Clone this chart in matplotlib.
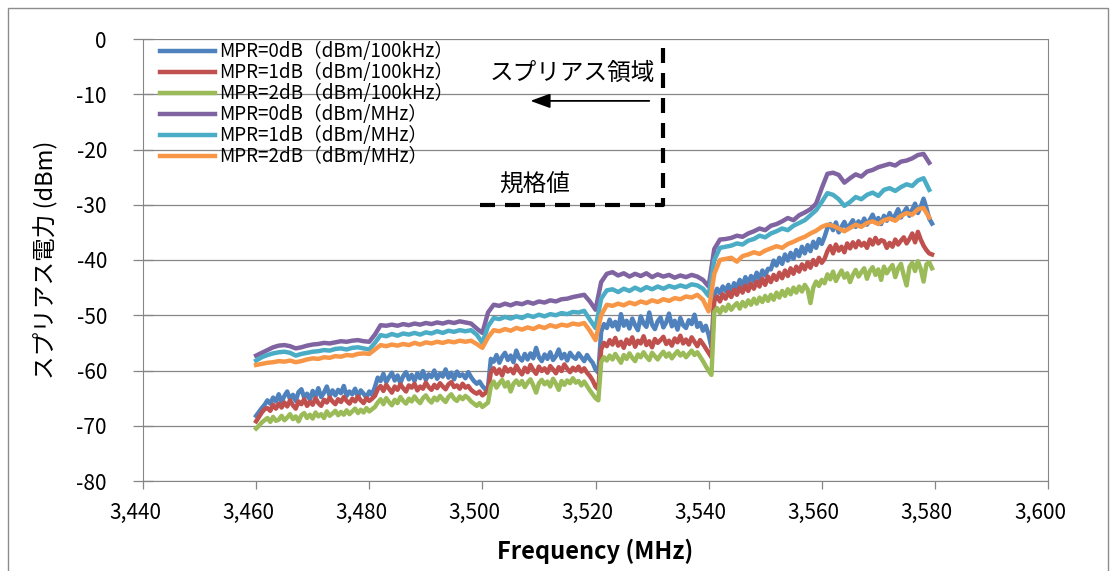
import numpy as np
import matplotlib
matplotlib.use("Agg")
import matplotlib.pyplot as plt
import matplotlib.transforms as mtransforms
from matplotlib.ticker import StrMethodFormatter
from matplotlib.patches import Rectangle

plt.rcParams['font.family'] = ['Noto Sans CJK JP', 'DejaVu Sans']
plt.rcParams['axes.unicode_minus'] = False

# ---- data ----
# 100 kHz series: 0.5 MHz spacing, one list per 20 MHz block, block start freq below
seg_start_100k = [3460.0, 3481.5, 3501.5, 3521.0, 3541.0, 3561.0]

mpr0_100k = [
    [-68.2, -67.5, -66.8, -66.2, -65.4, -66.0, -64.9, -65.6, -64.3, -65.7,
     -64.6, -63.8, -65.2, -64.4, -65.5, -63.9, -63.4, -64.9, -64.2, -65.3,
     -63.7, -64.7, -63.2, -64.8, -64.0, -62.9, -64.6, -63.6, -64.5, -63.5,
     -64.1, -62.8, -64.6, -63.8, -64.3, -63.3, -64.7, -63.6, -64.2, -64.9,
     -63.8, -64.4, -63.0],
    [-61.3, -61.9, -60.6, -62.1, -61.2, -60.4, -61.8, -60.9, -62.3, -61.0,
     -60.3, -61.6, -60.8, -61.9, -60.5, -61.4, -60.1, -61.7, -60.7, -61.2,
     -60.0, -61.5, -60.6, -61.1, -59.8, -61.3, -60.4, -61.6, -60.2, -61.0,
     -60.7, -61.4, -60.3, -61.2, -61.9, -62.4, -62.0, -62.8, -63.4, -63.0],
    [-57.9, -58.4, -57.2, -58.6, -57.5, -56.8, -58.1, -57.3, -58.5, -56.4,
     -57.7, -58.2, -57.0, -58.0, -56.9, -57.8, -55.9, -57.6, -58.3, -57.1,
     -57.9, -56.7, -58.1, -57.4, -56.2, -57.8, -57.0, -58.2, -56.8, -57.5,
     -57.9, -56.9, -57.6, -58.3, -57.2, -58.0, -58.6, -59.8, -60.4],
    [-53.0, -51.6, -52.3, -50.8, -52.0, -51.2, -52.6, -49.8, -51.9, -51.0,
     -52.4, -50.6, -51.8, -52.7, -50.2, -51.5, -52.1, -49.5, -51.7, -52.5,
     -51.1, -50.4, -52.2, -51.3, -49.7, -52.0, -51.0, -52.6, -50.5, -51.8,
     -52.3, -50.9, -51.6, -49.9, -52.1, -51.4, -52.8, -51.9, -53.5, -55.8],
    [-46.3, -45.2, -46.0, -44.8, -45.6, -44.5, -45.9, -44.2, -45.0, -43.6,
     -44.6, -43.1, -44.2, -42.9, -43.8, -42.3, -43.5, -41.9, -42.8, -41.6,
     -41.7, -40.1, -41.0, -39.6, -40.7, -39.0, -40.1, -38.7, -39.8, -38.2,
     -39.3, -37.6, -38.8, -37.3, -38.4, -36.7, -37.8, -36.2, -37.1, -35.8],
    [-34.2, -33.5, -34.6, -33.2, -35.0, -34.0, -33.1, -34.4, -33.6, -32.8,
     -34.0, -33.0, -33.8, -32.5, -33.6, -32.7, -31.8, -33.2, -32.4, -33.5,
     -32.0, -32.9, -31.5, -32.6, -31.9, -30.8, -32.3, -31.4, -30.6, -32.0,
     -30.9, -29.8, -31.5, -30.4, -28.9, -30.6, -32.5, -33.4],
]

mpr1_100k = [
    [-69.2, -68.4, -67.6, -67.0, -66.8, -67.3, -66.2, -66.9, -66.0, -66.7,
     -65.8, -66.5, -65.4, -66.3, -66.9, -65.6, -66.1, -65.2, -66.4, -65.7,
     -66.2, -65.0, -65.9, -66.4, -65.3, -65.8, -64.9, -65.6, -66.1, -65.2,
     -65.7, -64.8, -65.5, -66.0, -65.1, -65.6, -64.7, -65.4, -65.9, -65.0,
     -65.5, -65.1, -64.6],
    [-63.4, -62.8, -63.7, -62.6, -63.3, -64.0, -62.9, -63.5, -62.5, -63.2,
     -63.8, -62.7, -63.1, -62.4, -63.6, -62.9, -63.3, -62.2, -63.0, -63.5,
     -62.6, -63.2, -62.3, -62.9, -63.4, -62.5, -62.1, -63.0, -62.7, -63.3,
     -62.4, -63.1, -62.8, -63.5, -63.9, -64.2, -63.8, -64.5, -64.1, -63.6],
    [-60.3, -59.6, -60.6, -59.8, -60.9, -59.4, -60.2, -59.7, -60.5, -59.1,
     -60.0, -60.7, -59.5, -60.3, -59.0, -59.9, -60.6, -59.3, -60.1, -59.6,
     -60.4, -59.2, -59.8, -60.5, -59.4, -60.1, -58.9, -59.7, -60.3, -59.5,
     -60.0, -59.3, -60.2, -59.6, -60.4, -61.0, -61.8, -62.9, -63.4],
    [-56.2, -55.0, -55.6, -54.5, -55.3, -54.1, -55.5, -54.8, -55.9, -54.4,
     -55.2, -54.0, -55.7, -54.6, -55.1, -53.8, -55.4, -54.7, -55.8, -54.3,
     -55.0, -54.5, -53.9, -55.2, -54.6, -55.5, -54.2, -54.9, -53.7, -55.1,
     -54.4, -55.3, -54.0, -54.8, -55.6, -54.5, -55.2, -56.0, -56.8, -57.6],
    [-47.4, -46.6, -47.5, -46.2, -47.0, -45.8, -46.7, -45.4, -46.3, -45.0,
     -45.9, -44.6, -45.6, -44.3, -45.2, -43.9, -44.8, -43.4, -44.5, -43.0,
     -44.0, -42.7, -43.6, -42.3, -43.3, -41.9, -42.9, -41.5, -42.5, -41.2,
     -42.1, -40.8, -41.7, -40.4, -41.4, -40.0, -40.9, -39.6, -40.5, -39.8],
    [-38.4, -37.5, -38.8, -37.2, -38.3, -37.6, -38.6, -37.0, -37.9, -36.8,
     -37.7, -36.6, -37.4, -36.9, -37.8, -36.3, -37.2, -36.0, -37.0, -36.4,
     -36.6, -37.8, -36.9, -37.6, -36.3, -37.2, -36.5, -35.9, -37.0, -36.2,
     -35.2, -36.8, -34.9, -36.3, -37.4, -38.2, -38.8, -39.0],
]

mpr2_100k = [
    [-70.5, -70.0, -69.4, -69.0, -68.6, -69.3, -68.4, -69.1, -68.9, -68.2,
     -69.0, -68.5, -67.9, -68.8, -68.3, -69.2, -68.1, -67.7, -68.6, -68.0,
     -68.7, -67.6, -68.3, -67.9, -68.6, -67.4, -68.2, -67.8, -67.3, -68.1,
     -67.5, -68.0, -67.2, -67.9, -67.4, -66.9, -67.7, -67.1, -67.6, -66.8,
     -67.4, -67.0, -66.6],
    [-65.8, -65.2, -66.1, -65.0, -65.7, -66.3, -65.3, -65.9, -64.8, -65.5,
     -66.0, -65.1, -65.6, -64.7, -65.4, -65.9, -65.0, -64.5, -65.3, -65.8,
     -64.9, -65.4, -64.6, -65.2, -65.7, -64.8, -64.3, -65.1, -65.5, -64.7,
     -65.2, -64.6, -65.0, -65.6, -66.0, -66.4, -65.9, -66.6, -66.2, -65.8],
    [-62.8, -62.0, -63.1, -62.3, -61.7, -62.9, -62.1, -63.8, -62.4, -61.8,
     -62.6, -61.9, -63.0, -62.2, -61.6, -62.7, -64.0, -62.3, -61.7, -62.5,
     -62.0, -62.9, -61.5, -62.4, -63.5, -61.9, -62.6, -61.8, -62.3, -61.4,
     -62.2, -61.9, -62.7, -62.0, -62.8, -63.6, -64.3, -65.0, -65.4],
    [-58.5, -57.6, -58.2, -57.3, -58.0, -57.0, -57.8, -58.6, -57.2, -57.9,
     -56.9, -57.7, -58.3, -57.1, -57.6, -56.7, -57.5, -58.1, -56.8, -57.4,
     -58.0, -57.2, -56.6, -57.5, -56.9, -57.8, -57.1, -56.5, -57.3, -56.8,
     -57.6, -57.0, -56.4, -57.2, -56.7, -57.5, -58.3, -59.2, -60.1, -60.8],
    [-49.4, -48.7, -49.6, -48.5, -49.2, -48.1, -49.0, -48.3, -47.8, -48.8,
     -47.6, -48.4, -47.3, -48.1, -47.0, -47.9, -46.8, -47.6, -46.5, -47.4,
     -46.3, -47.2, -45.9, -46.8, -45.6, -46.5, -45.3, -46.2, -45.0, -45.9,
     -44.8, -45.7, -44.5, -45.3, -47.8, -45.0, -43.9, -44.7, -43.6, -44.2],
    [-42.6, -43.5, -42.1, -43.8, -42.8, -41.9, -43.2, -42.4, -44.0, -42.7,
     -41.8, -43.0, -42.2, -41.5, -43.4, -42.0, -41.3, -42.7, -41.7, -43.6,
     -41.2, -42.4, -41.6, -40.9, -43.1, -41.5, -40.7, -42.8, -44.6, -41.3,
     -40.5, -42.0, -40.2, -41.6, -43.9, -40.8, -40.4, -41.5],
]

# 1 MHz series: one value per MHz from 3460 to 3579
freq_mhz_start = 3460
mpr0_mhz = [
    -57.3, -56.8, -56.3, -55.8, -55.5, -55.4, -55.6, -56.0, -55.8, -55.5, -55.3,
    -55.2, -55.0, -55.1, -54.9, -54.7, -54.8, -54.6, -54.5, -54.7, -54.8,
    -53.5, -51.8, -51.9, -51.7, -51.9, -51.6, -51.8, -51.5, -51.7, -51.4,
    -51.6, -51.3, -51.5, -51.2, -51.4, -51.1, -51.3, -51.5, -52.4, -53.2,
    -49.5, -48.1, -48.3, -47.9, -48.2, -47.8, -48.0, -47.6, -47.9, -47.5,
    -47.7, -47.3, -47.5, -47.1, -47.0, -46.7, -46.5, -46.3, -47.5, -49.0,
    -44.0, -42.5, -42.2, -42.8, -42.4, -43.0, -42.5, -42.9, -42.4, -43.1,
    -42.6, -43.0, -42.7, -43.2, -42.8, -43.1, -42.7, -43.0, -43.6, -44.8,
    -38.0, -36.3, -36.2, -36.0, -35.6, -35.8, -35.2, -34.8, -34.3, -34.6,
    -33.8, -33.5, -33.0, -32.4, -32.8, -31.9, -31.4, -30.8, -29.8, -27.0,
    -24.4, -24.2, -24.6, -26.0, -25.2, -24.5, -24.9, -24.0, -23.7, -23.2,
    -22.9, -22.6, -22.9, -22.2, -22.0, -21.6, -21.0, -20.8, -22.4,
]
mpr1_mhz = [
    -58.2, -57.6, -57.2, -56.9, -56.7, -56.6, -56.8, -57.3, -57.0, -56.8, -56.6,
    -56.5, -56.3, -56.4, -56.1, -56.0, -56.2, -55.9, -55.8, -56.0, -56.2,
    -55.0, -53.6, -53.8, -53.4, -53.7, -53.3, -53.5, -53.2, -53.5, -53.1,
    -53.3, -52.9, -53.2, -52.8, -53.0, -52.7, -52.9, -52.7, -53.5, -55.0,
    -52.0, -50.5, -50.7, -50.3, -50.6, -50.2, -50.5, -50.0, -50.3, -49.9,
    -50.2, -49.8, -50.0, -49.6, -49.8, -49.4, -49.5, -49.2, -50.8, -52.3,
    -47.0, -45.5, -45.3, -45.8, -45.2, -45.6, -45.0, -45.5, -44.9, -45.3,
    -44.8, -45.2, -44.7, -45.0, -44.6, -44.9, -44.4, -44.6, -45.2, -46.5,
    -40.0, -37.8, -37.6, -37.4, -37.0, -37.2, -36.5, -36.2, -35.6, -35.9,
    -35.2, -34.8, -34.3, -34.6, -33.8, -33.3, -32.8, -31.9, -31.0, -29.5,
    -27.9, -28.2, -29.0, -30.2, -29.5, -28.6, -29.0, -28.2, -27.8, -28.4,
    -27.3, -27.0, -27.5, -26.8, -26.3, -26.6, -25.6, -25.2, -27.3,
]
mpr2_mhz = [
    -59.0, -58.8, -58.6, -58.5, -58.3, -58.4, -58.2, -58.5, -58.3, -58.0, -57.8,
    -57.9, -57.6, -57.7, -57.4, -57.5, -57.2, -57.3, -57.0, -56.9, -57.0,
    -56.2, -55.4, -55.6, -55.3, -55.5, -55.2, -55.4, -55.0, -55.3, -54.9,
    -55.1, -54.8, -55.0, -54.7, -54.9, -54.6, -54.8, -54.6, -55.2, -55.9,
    -54.0, -52.7, -52.9, -52.5, -52.8, -52.3, -52.6, -52.2, -52.5, -52.0,
    -52.3, -51.8, -52.1, -51.7, -51.9, -51.5, -51.7, -51.4, -52.8, -54.5,
    -50.0, -48.1, -48.3, -47.9, -48.2, -47.7, -48.0, -47.5, -47.8, -47.3,
    -47.6, -47.1, -47.4, -46.9, -47.1, -46.6, -46.8, -46.3, -47.2, -49.3,
    -42.5, -40.0, -39.8, -39.6, -40.3, -39.3, -39.0, -38.6, -38.9, -38.3,
    -37.9, -37.5, -37.8, -37.1, -36.7, -36.2, -35.8, -35.2, -34.7, -34.0,
    -33.6, -33.8, -34.3, -34.8, -34.2, -33.6, -34.0, -33.3, -33.0, -33.5,
    -32.8, -32.5, -32.9, -32.0, -31.5, -31.8, -30.8, -30.6, -32.3,
]

labels = [
    "MPR=0dB（dBm/100kHz）",
    "MPR=1dB（dBm/100kHz）",
    "MPR=2dB（dBm/100kHz）",
    "MPR=0dB（dBm/MHz）",
    "MPR=1dB（dBm/MHz）",
    "MPR=2dB（dBm/MHz）",
]
colors = ["#4F81BD", "#C0504D", "#9BBB59", "#8064A2", "#4BACC6", "#F79646"]

# limit line drawn on the chart
limit_freq = [3499.5, 3532, 3532]
limit_level = [-30, -30, 0]


def join_blocks(blocks):
    xs, ys = [], []
    for start, vals in zip(seg_start_100k, blocks):
        xs.append(start + 0.5 * np.arange(len(vals)))
        ys.append(np.array(vals))
    return np.concatenate(xs), np.concatenate(ys)


fig = plt.figure(figsize=(11.16, 5.71), dpi=100)
fig.patches.append(Rectangle((8 / 1116, -0.05), 1100 / 1116, 1 - 8 / 571 + 0.05,
                             transform=fig.transFigure, fill=False,
                             edgecolor="#8c8c8c", lw=1.0))
ax = fig.add_axes([143 / 1116, 1 - 481 / 571, 905 / 1116, 442 / 571])

series = []
for blocks in (mpr0_100k, mpr1_100k, mpr2_100k):
    series.append(join_blocks(blocks))
for vals in (mpr0_mhz, mpr1_mhz, mpr2_mhz):
    series.append((freq_mhz_start + np.arange(len(vals)), np.array(vals)))

for (x, y), lab, c in zip(series, labels, colors):
    ax.plot(x, y, color=c, lw=3.2, label=lab, solid_joinstyle="round")

ax.set_xlim(3440, 3600)
ax.set_ylim(-80, 0)
ax.set_xticks(np.arange(3440, 3601, 20))
ax.set_yticks(np.arange(-80, 1, 10))
ax.xaxis.set_major_formatter(StrMethodFormatter("{x:,.0f}"))
ax.yaxis.grid(True, color="#868686", lw=0.9)
ax.set_axisbelow(True)
ax.spines["top"].set_visible(False)
for s in ("left", "bottom", "right"):
    ax.spines[s].set_color("#868686")
ax.tick_params(axis="both", colors="#868686", labelcolor="black", width=0.9)
ax.tick_params(axis="x", direction="out", length=6, pad=9, labelsize=15)
ax.tick_params(axis="y", direction="inout", length=14, pad=19, labelsize=15)
shift = mtransforms.ScaledTranslation(-8 / 100, 0, fig.dpi_scale_trans)
for t in ax.get_xticklabels():
    t.set_transform(t.get_transform() + shift)

ax.set_xlabel("Frequency (MHz)", fontsize=17, fontweight="bold", labelpad=11)
ax.set_ylabel("スプリアス電力 (dBm)", fontsize=17, labelpad=14)

# limit line, arrow and notes
ax.plot(limit_freq, limit_level, color="black", lw=3, ls=(0, (3.6, 2.4)))
ax.annotate("", xy=(3508, -11.2), xytext=(3530, -11.2),
            arrowprops=dict(arrowstyle="-|>,head_length=0.6,head_width=0.22",
                            color="black", lw=1.3, mutation_scale=20))
ax.text(3501.3, -6.2, "スプリアス領域", fontsize=17, va="center", ha="left")
ax.text(3503, -26.4, "規格値", fontsize=17, va="center", ha="left")

ax.legend(loc="upper left", bbox_to_anchor=(0.019, 0.995), frameon=False,
          fontsize=13.5, handlelength=2.9, handletextpad=0.25,
          labelspacing=0.0, borderpad=0, borderaxespad=0)

fig.savefig("out.png", dpi=100)
